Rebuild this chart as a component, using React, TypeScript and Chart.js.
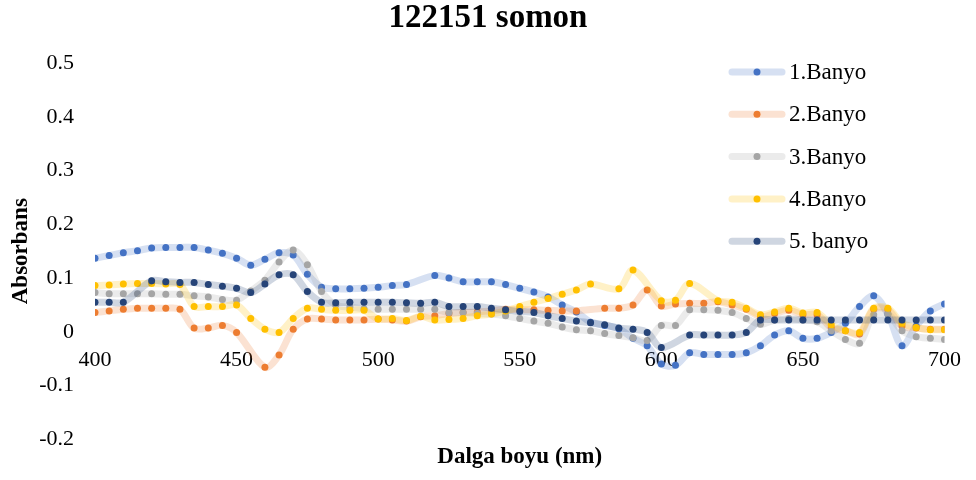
import React, { useEffect, useRef } from 'react';
import { Chart, registerables } from 'chart.js';

Chart.register(...registerables);

// Wavelength grid (nm)
const wavelengths = [
  400, 405, 410, 415, 420, 425, 430, 435, 440, 445,
  450, 455, 460, 465, 470, 475, 480, 485, 490, 495,
  500, 505, 510, 515, 520, 525, 530, 535, 540, 545,
  550, 555, 560, 565, 570, 575, 580, 585, 590, 595,
  600, 605, 610, 615, 620, 625, 630, 635, 640, 645,
  650, 655, 660, 665, 670, 675, 680, 685, 690, 695,
  700,
];

// Absorbance readings per bath (null = no reading at that wavelength)
const banyo1 = [
  0.137, 0.142, 0.147, 0.151, 0.156, 0.157, 0.157, 0.157, 0.152, 0.146,
  0.137, 0.124, 0.135, 0.147, 0.143, 0.107, 0.083, 0.080, 0.080, 0.081,
  0.083, 0.086, 0.088, null, 0.105, 0.100, 0.093, 0.093, 0.093, 0.088,
  0.081, 0.074, 0.065, 0.050, 0.037, 0.018, 0.012, 0.006, -0.012, -0.026,
  -0.060, -0.062, -0.039, -0.042, -0.042, -0.042, -0.039, -0.026, -0.006, 0.002,
  -0.012, -0.012, -0.001, 0.016, 0.047, 0.067, 0.033, -0.026, 0.011, 0.039,
  0.052,
];

const banyo2 = [
  0.036, 0.039, 0.042, 0.044, 0.044, 0.044, 0.042, 0.007, 0.007, 0.012,
  -0.001, null, -0.066, -0.043, 0.005, 0.024, 0.024, 0.022, 0.022, 0.022,
  0.024, 0.022, 0.020, 0.028, 0.030, 0.034, 0.036, 0.037, 0.039, 0.042,
  0.041, 0.041, 0.040, 0.039, 0.039, null, 0.044, 0.044, 0.050, 0.078,
  0.048, 0.052, 0.053, 0.053, 0.056, 0.050, 0.042, 0.028, 0.034, 0.040,
  0.032, 0.032, 0.008, 0.002, -0.004, 0.042, 0.041, 0.011, 0.007, 0.005,
  0.005,
];

const banyo3 = [
  0.073, 0.071, 0.071, 0.071, 0.071, 0.070, 0.070, 0.067, 0.065, 0.060,
  0.059, 0.076, 0.096, 0.130, 0.152, 0.125, 0.075, 0.050, 0.046, 0.043,
  0.042, 0.042, 0.042, 0.042, 0.042, 0.036, 0.036, 0.034, 0.033, 0.030,
  0.025, 0.020, 0.016, 0.009, 0.004, 0.002, -0.003, -0.007, -0.011, -0.016,
  0.012, 0.012, 0.041, 0.041, 0.040, 0.036, 0.025, 0.014, 0.022, 0.025,
  0.022, 0.019, 0.002, -0.014, -0.021, 0.032, 0.033, 0.002, -0.009, -0.012,
  -0.014,
];

const banyo4 = [
  0.086, 0.087, 0.089, 0.090, 0.090, 0.089, 0.088, 0.047, 0.047, 0.047,
  0.050, 0.025, 0.005, -0.001, 0.025, 0.044, 0.042, 0.040, 0.040, 0.040,
  0.024, 0.025, 0.021, 0.029, 0.022, 0.023, 0.025, 0.030, 0.033, 0.039,
  0.047, 0.055, 0.062, 0.070, 0.078, 0.089, null, 0.080, 0.115, null,
  0.058, 0.059, 0.090, null, 0.058, 0.055, 0.044, 0.032, 0.037, 0.044,
  0.035, 0.036, 0.013, 0.002, -0.001, 0.044, 0.044, 0.016, 0.008, 0.004,
  0.004,
];

const banyo5 = [
  0.055, 0.055, 0.055, null, 0.095, 0.093, 0.092, 0.092, 0.088, 0.085,
  0.081, 0.073, 0.089, 0.106, 0.106, 0.075, 0.055, 0.054, 0.055, 0.055,
  0.055, 0.055, 0.054, 0.053, 0.055, 0.047, 0.047, 0.047, 0.044, 0.041,
  0.038, 0.036, 0.030, 0.025, 0.020, 0.017, 0.013, 0.007, 0.005, -0.001,
  -0.029, null, -0.006, -0.006, -0.006, -0.006, -0.001, 0.022, 0.022, 0.022,
  0.022, 0.022, 0.022, 0.022, 0.022, 0.022, 0.022, 0.022, 0.022, 0.022,
  0.022,
];

const seriesLabels = ['1.Banyo', '2.Banyo', '3.Banyo', '4.Banyo', '5. banyo'];
const seriesValues = [banyo1, banyo2, banyo3, banyo4, banyo5];
const seriesColors = ['#4472C4', '#ED7D31', '#A5A5A5', '#FFC000', '#264478'];

const chartTitle = '122151 somon';
const xTitle = 'Dalga boyu (nm)';
const yTitle = 'Absorbans';

const FONT = "'Liberation Serif', 'Times New Roman', serif";

function pale(hex: string, alpha: number) {
  const n = parseInt(hex.slice(1), 16);
  return `rgba(${(n >> 16) & 255}, ${(n >> 8) & 255}, ${n & 255}, ${alpha})`;
}

// Vertical legend drawn inside the plot, upper right
const sideLegend = {
  id: 'sideLegend',
  afterDraw(chart: any) {
    const { ctx } = chart;
    const x0 = 732;
    const x1 = 782;
    const top = 72;
    const gap = 42.3;
    seriesLabels.forEach((label, i) => {
      const y = top + i * gap;
      ctx.save();
      ctx.strokeStyle = pale(seriesColors[i], 0.22);
      ctx.lineWidth = 7;
      ctx.lineCap = 'round';
      ctx.beginPath();
      ctx.moveTo(x0, y);
      ctx.lineTo(x1, y);
      ctx.stroke();
      ctx.fillStyle = seriesColors[i];
      ctx.beginPath();
      ctx.arc((x0 + x1) / 2, y, 3.5, 0, Math.PI * 2);
      ctx.fill();
      ctx.fillStyle = '#000';
      ctx.font = `23px ${FONT}`;
      ctx.textAlign = 'left';
      ctx.textBaseline = 'middle';
      ctx.fillText(label, 789, y + 1);
      ctx.restore();
    });
  },
};

export default function App() {
  const canvasRef = useRef<HTMLCanvasElement | null>(null);

  useEffect(() => {
    if (!canvasRef.current) return;
    const datasets = seriesLabels.map((label, i) => ({
      label,
      data: wavelengths.map((x, j) => ({ x, y: seriesValues[i][j] })),
      borderColor: pale(seriesColors[i], 0.22),
      backgroundColor: seriesColors[i],
      pointBackgroundColor: seriesColors[i],
      pointBorderWidth: 0,
      pointRadius: 3.5,
      borderWidth: 7,
      tension: 0.33,
      spanGaps: true,
      fill: false,
      order: seriesLabels.length - i,
    }));

    const chart = new Chart(canvasRef.current, {
      type: 'line',
      data: { datasets },
      options: {
        responsive: false,
        animation: false,
        layout: { padding: 0 },
        plugins: {
          legend: { display: false },
          tooltip: { enabled: false },
          title: {
            display: true,
            text: chartTitle,
            color: '#000',
            font: { family: FONT, size: 33, weight: 'bold', lineHeight: 1 },
            padding: { top: 2, bottom: 28 },
          },
          subtitle: {
            display: true,
            position: 'bottom',
            fullSize: false,
            text: xTitle,
            color: '#000',
            font: { family: FONT, size: 23, weight: 'bold', lineHeight: 1.2 },
            padding: { top: 4, bottom: 9 },
          },
        },
        scales: {
          x: {
            type: 'linear',
            min: 400,
            max: 700,
            position: { y: 0 },
            grid: { display: false, drawTicks: false },
            border: { display: false },
            ticks: {
              stepSize: 50,
              padding: 15,
              color: '#000',
              font: { family: FONT, size: 22 },
              maxRotation: 0,
            },
          },
          y: {
            type: 'linear',
            min: -0.2,
            max: 0.5,
            grid: { display: false, drawTicks: false },
            border: { display: false },
            ticks: {
              stepSize: 0.1,
              padding: 21,
              color: '#000',
              font: { family: FONT, size: 22 },
              callback: (v: any) => String(Number(Number(v).toFixed(1))),
            },
            title: {
              display: true,
              text: yTitle,
              color: '#000',
              font: { family: FONT, size: 23, weight: 'bold', lineHeight: 1.2 },
              padding: { top: 7, bottom: 0 },
            },
            afterFit: (scale: any) => {
              scale.width = 95;
            },
          },
          // empty right-hand margin strip so the plot ends at 700 nm like the layout needs
          yRight: {
            type: 'linear',
            position: 'right',
            min: -0.2,
            max: 0.5,
            grid: { display: false, drawTicks: false },
            border: { display: false },
            ticks: { display: false },
            afterFit: (scale: any) => {
              scale.width = 28;
            },
          },
        },
      } as any,
      plugins: [sideLegend],
    });

    return () => chart.destroy();
  }, []);

  return (
    <div style={{ position: 'fixed', left: 0, top: 0, width: 976, height: 480, background: '#fff' }}>
      <canvas ref={canvasRef} width={976} height={480} />
    </div>
  );
}
